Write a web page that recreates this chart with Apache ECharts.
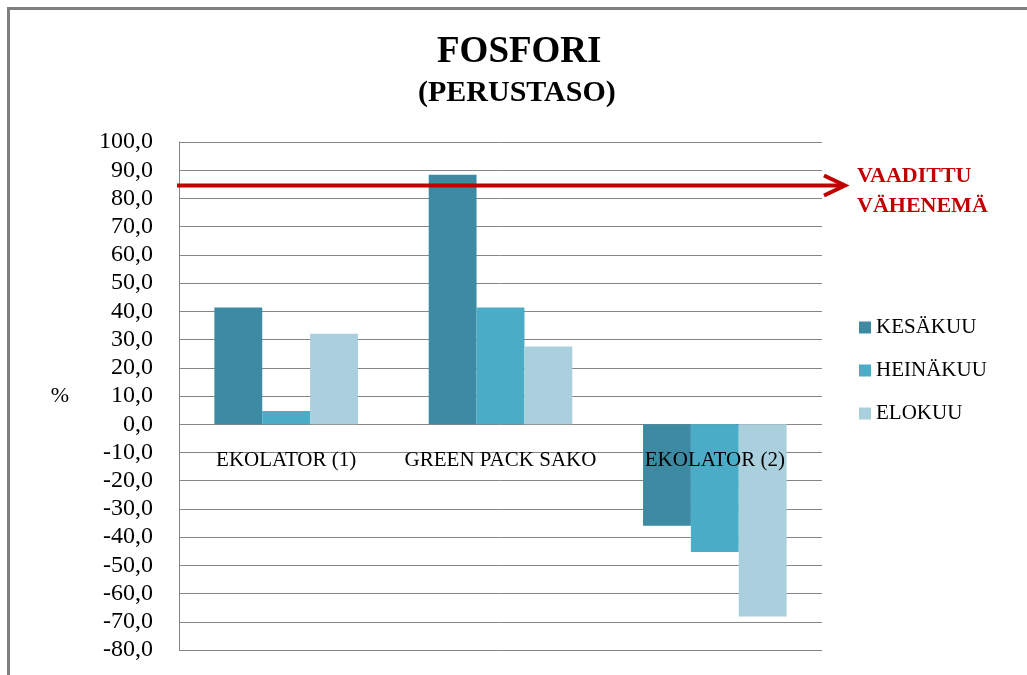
<!DOCTYPE html>
<html>
<head>
<meta charset="utf-8">
<script src="https://cdn.jsdelivr.net/npm/echarts@6/dist/echarts.min.js"></script>
<style>
  html, body { margin: 0; padding: 0; background: #fff; }
  #frame { position: absolute; left: 7px; top: 7px; width: 1020px; height: 668px;
           border-top: 3px solid #808080; border-left: 3px solid #808080; box-sizing: border-box; }
  #main { position: absolute; left: 0; top: 0; width: 1027px; height: 675px; }
</style>
</head>
<body>
<div id="frame"></div>
<div id="main"></div>
<script>
// data
const categories = ["EKOLATOR (1)", "GREEN PACK SAKO", "EKOLATOR (2)"];
const kesakuu = [41.4, 88.4, -36.0];
const heinakuu = [4.7, 41.4, -45.3];
const elokuu = [32.1, 27.5, -68.1];
const seriesNames = ["KESÄKUU", "HEINÄKUU", "ELOKUU"];
const vaadittu = 84.6; // vaadittu vähenemä
const yMin = -80, yMax = 100, yStep = 10;

const serif = '"Liberation Serif", "DejaVu Serif", serif';
const colors = ["#3C8BA3", "#4AACC6", "#AACFDD"];

const myChart = echarts.init(document.getElementById("main"));

const options = {
  animation: false,
  color: colors,
  title: [
    { text: "FOSFORI", left: 432, top: 29,
      textStyle: { fontFamily: serif, fontSize: 37, fontWeight: "bold", color: "#000" } },
    { text: "(PERUSTASO)", left: 413, top: 73,
      textStyle: { fontFamily: serif, fontSize: 30, fontWeight: "bold", color: "#000" } },
  ],
  grid: { left: 179, right: 205, top: 142, bottom: 25, containLabel: false, outerBoundsMode: "none" },
  legend: {
    orient: "vertical",
    left: 859,
    top: 317,
    padding: 0,
    itemWidth: 12,
    itemHeight: 12,
    itemGap: 22,
    icon: "rect",
    data: seriesNames,
    textStyle: { fontFamily: serif, fontSize: 21, color: "#000" },
  },
  xAxis: {
    type: "category",
    data: categories,
    z: 10,
    axisLine: { show: false, onZero: false },
    axisTick: { show: false },
    axisLabel: { interval: 0, margin: 26, fontFamily: serif, fontSize: 21, color: "#000" },
  },
  yAxis: {
    type: "value",
    min: yMin,
    max: yMax,
    interval: yStep,
    name: "%",
    nameLocation: "middle",
    nameRotate: 0,
    nameGap: 110,
    nameTextStyle: { fontFamily: serif, fontSize: 22, color: "#000" },
    axisLine: { show: true, lineStyle: { color: "#868686" } },
    axisTick: { show: false },
    axisLabel: {
      margin: 26,
      fontFamily: serif,
      fontSize: 24,
      color: "#000",
      formatter: (v) => v.toFixed(1).replace(".", ","),
    },
    splitLine: { lineStyle: { color: "#868686", width: 1 } },
  },
  series: [
    { name: seriesNames[0], type: "bar", data: kesakuu, barGap: "0%", barCategoryGap: "33%" },
    { name: seriesNames[1], type: "bar", data: heinakuu, barGap: "0%", barCategoryGap: "33%" },
    { name: seriesNames[2], type: "bar", data: elokuu, barGap: "0%", barCategoryGap: "33%" },
  ],
};

myChart.setOption(options);

// luokkien nimet nollalinjan alle
const yZero = myChart.convertToPixel({ yAxisIndex: 0 }, 0);
const yBottom = myChart.convertToPixel({ yAxisIndex: 0 }, yMin);

// vaadittu vähenemä -nuoli
const yLine = myChart.convertToPixel({ yAxisIndex: 0 }, vaadittu);
const xStart = 177;
const xTip = 845;
myChart.setOption({
  xAxis: { offset: -(yBottom - yZero) },
  graphic: [
    { type: "line", z: 100, shape: { x1: xStart, y1: yLine, x2: xTip - 3, y2: yLine },
      style: { stroke: "#C00000", lineWidth: 4 } },
    { type: "polyline", z: 100,
      shape: { points: [[xTip - 21, yLine - 10], [xTip, yLine], [xTip - 21, yLine + 10]] },
      style: { stroke: "#C00000", lineWidth: 4, fill: null } },
    { type: "text", z: 100, left: 857, top: yLine - 24,
      style: { text: "VAADITTU\nVÄHENEMÄ", fill: "#C00000", font: "bold 22px " + serif, lineHeight: 30 } },
  ],
});
</script>
</body>
</html>
